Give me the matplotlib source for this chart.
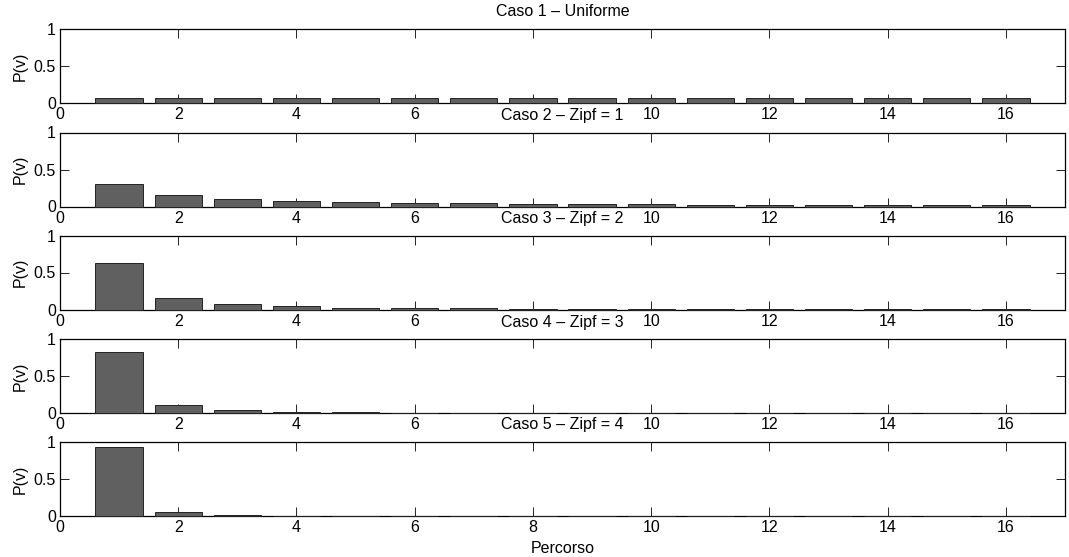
import numpy as np
import matplotlib
matplotlib.use("Agg")
import matplotlib.pyplot as plt

plt.rcParams['font.family'] = ['Liberation Sans', 'DejaVu Sans']

percorso = list(range(1, 17))

titles = ["Caso 1 \u2013 Uniforme", "Caso 2 \u2013 Zipf = 1", "Caso 3 \u2013 Zipf = 2",
          "Caso 4 \u2013 Zipf = 3", "Caso 5 \u2013 Zipf = 4"]

caso1 = [0.0625] * 16
caso2 = [0.30, 0.15, 0.10, 0.075, 0.06, 0.05, 0.043, 0.037, 0.033, 0.030,
         0.027, 0.025, 0.023, 0.021, 0.020, 0.018]
caso3 = [0.63, 0.16, 0.075, 0.05, 0.027, 0.025, 0.025, 0.01, 0.008, 0.006,
         0.005, 0.004, 0.004, 0.003, 0.003, 0.002]
caso4 = [0.83, 0.11, 0.035, 0.02, 0.007, 0.004, 0.003, 0.002, 0.002, 0.001,
         0.001, 0.001, 0.001, 0.001, 0.001, 0.001]
caso5 = [0.93, 0.06, 0.008, 0.004, 0.002, 0.002, 0.002, 0.002, 0.002, 0.002,
         0.002, 0.0, 0.0, 0.0, 0.0, 0.0]
casi = [caso1, caso2, caso3, caso4, caso5]

fig = plt.figure(figsize=(10.69, 5.57), dpi=100)
W, H = 1069.0, 557.0
left, right = 60 / W, 1065 / W
tops = [29, 132.5, 235.5, 339, 442]
ax_h = 74
fs = 11.5

for i, (vals, title) in enumerate(zip(casi, titles)):
    top = tops[i]
    ax = fig.add_axes([left, 1 - (top + ax_h) / H, right - left, ax_h / H])
    ax.set_zorder(i)
    bars = ax.bar(percorso, vals, width=0.8, color='#606060', edgecolor='#222222',
                  linewidth=0.7, zorder=3)
    for b in bars:
        b.set_clip_on(False)
    ax.set_xlim(0, 17)
    ax.set_ylim(0, 1)
    ax.set_xticks(range(0, 17, 2))
    ax.set_yticks([0, 0.5, 1])
    ax.set_yticklabels(['0', '0.5', '1'])
    ax.tick_params(direction='in', top=True, right=True, length=6.5, width=0.6,
                   labelsize=fs, pad=3)
    for s in ax.spines.values():
        s.set_linewidth(0.9)
        s.set_zorder(2.5)
    ax.set_ylabel('P(v)', fontsize=fs, labelpad=4)
    t = ax.set_title(title, fontsize=fs, pad=9)
    t.set_bbox(dict(facecolor='white', edgecolor='none', pad=1))

ax.set_xlabel('Percorso', fontsize=fs, labelpad=4)

fig.savefig('out.png', dpi=100)
